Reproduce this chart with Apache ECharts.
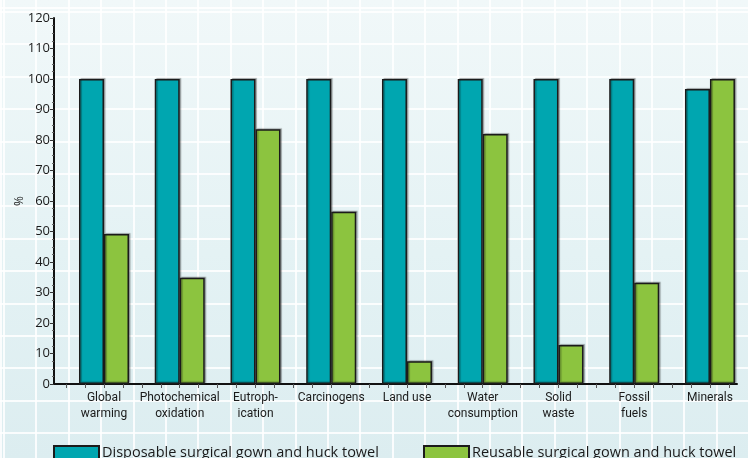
<!DOCTYPE html>
<html>
<head>
<meta charset="utf-8">
<script src="https://cdn.jsdelivr.net/npm/echarts@6/dist/echarts.min.js"></script>
<style>
html,body{margin:0;padding:0;}
#chart{
  width:748px;height:458px;
  background-color:#e6f3f5;
  background-image:
    repeating-linear-gradient(90deg, rgba(255,255,255,0.85) 0 2px, transparent 2px 32.4px),
    repeating-linear-gradient(180deg, rgba(255,255,255,0.85) 0 2px, transparent 2px 32.4px),
    linear-gradient(180deg, #f1f8f9 0%, #e4f2f4 55%, #dcedf0 100%);
  background-position: 3px 0, 0 11px, 0 0;
}
</style>
</head>
<body>
<div id="chart"></div>
<script>
const categories = ['Global\nwarming', 'Photochemical\noxidation', 'Eutroph-\nication', 'Carcinogens', 'Land use', 'Water\nconsumption', 'Solid\nwaste', 'Fossil\nfuels', 'Minerals'];
const disposable = [100, 100, 100, 100, 100, 100, 100, 100, 96.7];
const reusable = [49.2, 34.8, 83.5, 56.5, 7.5, 82, 12.8, 33.2, 100];
const seriesNames = ['Disposable surgical gown and huck towel', 'Reusable surgical gown and huck towel'];
const yTicks = [0, 10, 20, 30, 40, 50, 60, 70, 80, 90, 100, 110, 120];

const catIdx = categories.map((c, i) => i);
const xTicks = [];
catIdx.forEach(i => { xTicks.push(i - 0.5, i - 0.25, i, i + 0.25); });

const narrow = "Roboto,'Open Sans',sans-serif";
const chart = echarts.init(document.getElementById('chart'), null, {renderer: 'canvas'});
const barStyle = (color) => ({
  color: color,
  borderColor: '#1b1b1b',
  borderWidth: 1.5,
  shadowColor: 'rgba(0,0,0,0.28)',
  shadowBlur: 1,
  shadowOffsetX: 1.5,
  shadowOffsetY: -1
});
const legendText = {fontFamily: 'Open Sans', fontSize: 14.5, color: '#1a1a1a', padding: [0,0,0,-2]};
chart.setOption({
  backgroundColor: 'transparent',
  animation: false,
  grid: {left: 54, right: 11, top: 18, bottom: 74, containLabel: false, outerBoundsMode: 'none'},
  legend: [
    {data: [seriesNames[0]], icon: 'rect', left: 53, top: 445, itemWidth: 45, itemHeight: 13, itemGap: 0,
     textStyle: legendText, padding: 0},
    {data: [seriesNames[1]], icon: 'rect', left: 423, top: 445, itemWidth: 45, itemHeight: 13, itemGap: 0,
     textStyle: legendText, padding: 0}
  ],
  xAxis: {
    type: 'value',
    min: -0.66, max: 8.357,
    splitLine: {show: false},
    axisLine: {show: true, onZero: false, lineStyle: {color: '#111', width: 2}},
    axisTick: {show: true, customValues: xTicks, length: 4, lineStyle: {color: '#555', width: 1}},
    axisLabel: {
      customValues: catIdx,
      formatter: (v) => categories[Math.round(v)],
      fontFamily: narrow, fontSize: 12, color: '#1a1a1a', lineHeight: 16, margin: 6
    }
  },
  yAxis: {
    type: 'value',
    min: 0, max: 120, interval: 10,
    name: '%', nameLocation: 'middle', nameGap: 28, nameRotate: 90, nameMoveOverlap: false,
    nameTextStyle: {fontFamily: 'Open Sans', fontSize: 12, color: '#1a1a1a'},
    splitLine: {show: false},
    axisLine: {show: true, onZero: false, lineStyle: {color: '#111', width: 2}},
    axisTick: {show: true, length: 4, lineStyle: {color: '#333', width: 1}},
    minorTick: {show: true, splitNumber: 4, length: 2, lineStyle: {color: '#666', width: 1}},
    axisLabel: {fontFamily: 'Open Sans', fontSize: 13, color: '#1a1a1a', margin: 4,
      formatter: (v) => yTicks.includes(v) ? String(v) : ''}
  },
  series: [
    {name: seriesNames[0], type: 'bar', barWidth: 25, barGap: '0%',
     data: disposable.map((v, i) => [i, v]), itemStyle: barStyle('#00a6b0')},
    {name: seriesNames[1], type: 'bar', barWidth: 25, barGap: '0%',
     data: reusable.map((v, i) => [i, v]), itemStyle: barStyle('#8cc43f')}
  ]
});
</script>
</body>
</html>
